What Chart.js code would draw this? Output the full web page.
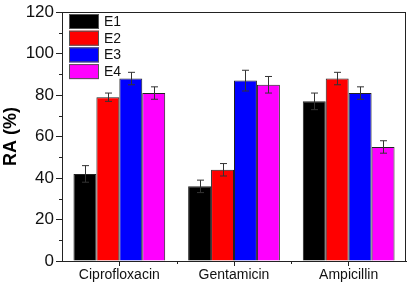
<!DOCTYPE html>
<html lang="en">
<head>
  <meta charset="UTF-8">
  <title>RA (%)</title>
  <script src="https://cdn.jsdelivr.net/npm/chart.js"></script>
  <style>
    body { margin: 0; background: #fff; }
    .chart-container { position: relative; width: 408px; height: 286px; }
  </style>
</head>
<body>
  <div class="chart-container">
    <canvas id="raChart"></canvas>
  </div>

  <script>
    // data
    const categories = ['Ciprofloxacin', 'Gentamicin', 'Ampicillin'];
    const seriesNames = ['E1', 'E2', 'E3', 'E4'];
    const seriesColors = ['#000000', '#ff0000', '#0000ff', '#ff00ff'];
    const e1 = [42, 36, 77];
    const e2 = [79, 44, 88];
    const e3 = [88, 87, 81];
    const e4 = [81, 85, 55];
    const e1Err = [4, 3, 4];
    const e2Err = [2, 3, 3];
    const e3Err = [3, 5, 3];
    const e4Err = [3, 4, 3];
    const yTicks = [0, 20, 40, 60, 80, 100, 120];

    const values = [e1, e2, e3, e4];
    const errors = [e1Err, e2Err, e3Err, e4Err];
    const axisColor = '#222';

    // error bars, box frame, minor ticks and inset legend
    const extras = {
      id: 'extras',
      afterDatasetsDraw(chart) {
        const ctx = chart.ctx;
        const y = chart.scales.y;
        ctx.save();
        ctx.strokeStyle = '#333';
        ctx.lineWidth = 1;
        chart.data.datasets.forEach((ds, i) => {
          const meta = chart.getDatasetMeta(i);
          meta.data.forEach((bar, j) => {
            const v = ds.data[j], e = errors[i][j];
            const top = y.getPixelForValue(v + e);
            const bot = y.getPixelForValue(v - e);
            const x = Math.round(bar.x) + 0.5;
            ctx.beginPath();
            ctx.moveTo(x, top); ctx.lineTo(x, bot);
            ctx.moveTo(x - 3.5, top); ctx.lineTo(x + 3.5, top);
            ctx.moveTo(x - 3.5, bot); ctx.lineTo(x + 3.5, bot);
            ctx.stroke();
          });
        });
        ctx.restore();
      },
      afterDraw(chart) {
        const ctx = chart.ctx;
        const a = chart.chartArea;
        const y = chart.scales.y;
        const x = chart.scales.x;
        ctx.save();
        ctx.strokeStyle = axisColor;
        ctx.lineWidth = 1;
        // frame
        ctx.strokeRect(Math.round(a.left) + 0.5, Math.round(a.top) + 0.5,
          Math.round(a.right - a.left) - 1, Math.round(a.bottom - a.top));
        // y minor ticks
        ctx.beginPath();
        for (let v = 10; v < 120; v += 20) {
          const py = Math.round(y.getPixelForValue(v)) + 0.5;
          ctx.moveTo(a.left - 3, py); ctx.lineTo(a.left, py);
        }
        // x minor ticks between categories
        for (let k = 0; k < categories.length - 1; k++) {
          const px = Math.round((x.getPixelForValue(k) + x.getPixelForValue(k + 1)) / 2) + 0.5;
          ctx.moveTo(px, a.bottom); ctx.lineTo(px, a.bottom + 3);
        }
        ctx.stroke();

        // legend inside plot
        ctx.font = '14px "Liberation Sans", Arial, sans-serif';
        ctx.textBaseline = 'middle';
        seriesNames.forEach((name, i) => {
          const bx = 69, by = 14 + i * 16.7;
          ctx.fillStyle = seriesColors[i];
          ctx.fillRect(bx, by, 30, 15);
          ctx.strokeStyle = '#555';
          ctx.strokeRect(bx + 0.5, by + 0.5, 29, 14);
          ctx.fillStyle = '#111';
          ctx.fillText(name, bx + 35, by + 8);
        });
        ctx.restore();
      }
    };

    const ctx = document.getElementById('raChart').getContext('2d');
    new Chart(ctx, {
      type: 'bar',
      data: {
        labels: categories,
        datasets: seriesNames.map((name, i) => ({
          label: name,
          data: values[i],
          backgroundColor: seriesColors[i],
          borderColor: '#222',
          borderWidth: 1,
          categoryPercentage: 0.8,
          barPercentage: 1.0
        }))
      },
      options: {
        responsive: true,
        maintainAspectRatio: false,
        animation: false,
        layout: { padding: { top: 8, right: 2, left: 0, bottom: 0 } },
        plugins: { legend: { display: false }, tooltip: { enabled: false } },
        scales: {
          x: {
            grid: { offset: false, drawOnChartArea: false, tickLength: 5, color: axisColor },
            border: { color: axisColor },
            ticks: { color: '#111', padding: 1, font: { family: '"Liberation Sans", Arial, sans-serif', size: 14 } },
            afterFit(scale) { scale.height = 25; }
          },
          y: {
            min: 0,
            max: 120,
            afterBuildTicks(scale) { scale.ticks = yTicks.map(v => ({ value: v })); },
            grid: { drawOnChartArea: false, tickLength: 6, color: axisColor },
            border: { color: axisColor },
            ticks: { color: '#111', padding: 2, font: { family: '"Liberation Sans", Arial, sans-serif', size: 17 } },
            title: {
              display: true,
              text: 'RA (%)',
              color: '#000',
              padding: { top: 0, bottom: 0 },
              font: { family: '"Liberation Sans", Arial, sans-serif', size: 18, weight: 'bold' }
            },
            afterFit(scale) { scale.width = 62; }
          }
        }
      },
      plugins: [extras]
    });
  </script>
</body>
</html>
